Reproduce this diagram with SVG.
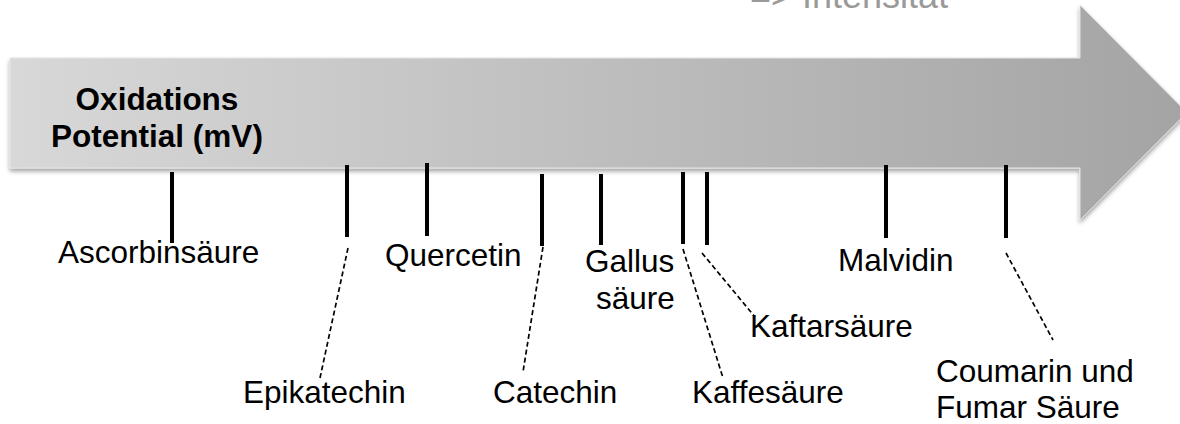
<svg xmlns="http://www.w3.org/2000/svg" width="1180" height="424" viewBox="0 0 1180 424">
  <style>
    .lbl { font-family: "Liberation Sans", Arial, sans-serif; font-size: 31.5px; fill: #000; }
    .bold { font-weight: bold; }
    .tick { stroke: #000; stroke-width: 4; fill: none; }
    .lead { stroke: #000; stroke-width: 1.7; stroke-dasharray: 5 3; fill: none; }
    .top { font-family: "Liberation Sans", Arial, sans-serif; font-size: 36px; fill: #9a9a9a; }
  </style>
  <defs>
    <linearGradient id="arrowGrad" x1="0" y1="0" x2="1" y2="0">
      <stop offset="0" stop-color="#d8d8d8"/>
      <stop offset="1" stop-color="#a4a4a4"/>
    </linearGradient>
    <filter id="shadow" x="-5%" y="-10%" width="110%" height="125%">
      <feDropShadow dx="0" dy="3" stdDeviation="2" flood-color="#000" flood-opacity="0.35"/>
    </filter>
  </defs>

  <rect width="1180" height="424" fill="#fff"/>

  <g id="title-intensitaet">
    <text class="top" x="750" y="8">=&gt; Intensität</text>
  </g>

  <g id="arrow">
    <path d="M10,58 L1080,58 L1080,5 L1187,112.5 L1080,220 L1080,168 L10,168 Z" fill="url(#arrowGrad)" stroke="#e4e4e4" stroke-width="1" filter="url(#shadow)"/>
    <text class="lbl bold" x="157" y="110" text-anchor="middle">Oxidations</text>
    <text class="lbl bold" x="157" y="147" text-anchor="middle">Potential (mV)</text>
  </g>

  <g id="connectors">
    <line class="lead" x1="348" y1="248" x2="320" y2="378"/>
    <line class="lead" x1="543" y1="247" x2="523" y2="372"/>
    <line class="lead" x1="683" y1="249" x2="723" y2="378"/>
    <line class="lead" x1="702" y1="253" x2="755" y2="317"/>
    <line class="lead" x1="1006" y1="253" x2="1053" y2="340"/>
  </g>

  <g id="ascorbinsaeure">
    <line class="tick" x1="172" y1="172" x2="172" y2="243"/>
    <text class="lbl" x="58" y="263">Ascorbinsäure</text>
  </g>
  <g id="epikatechin">
    <line class="tick" x1="347" y1="165" x2="347" y2="237"/>
    <text class="lbl" x="243" y="403">Epikatechin</text>
  </g>
  <g id="quercetin">
    <line class="tick" x1="427" y1="163" x2="427" y2="236"/>
    <text class="lbl" x="385" y="266">Quercetin</text>
  </g>
  <g id="catechin">
    <line class="tick" x1="542" y1="174" x2="542" y2="246"/>
    <text class="lbl" x="493" y="403">Catechin</text>
  </g>
  <g id="gallussaeure">
    <line class="tick" x1="601" y1="174" x2="601" y2="245"/>
    <text class="lbl" x="585" y="272">Gallus</text>
    <text class="lbl" x="596" y="309">säure</text>
  </g>
  <g id="kaffesaeure">
    <line class="tick" x1="683" y1="172" x2="683" y2="244"/>
    <text class="lbl" x="692" y="403">Kaffesäure</text>
  </g>
  <g id="kaftarsaeure">
    <line class="tick" x1="707" y1="172" x2="707" y2="245"/>
    <text class="lbl" x="750" y="337">Kaftarsäure</text>
  </g>
  <g id="malvidin">
    <line class="tick" x1="886" y1="165" x2="886" y2="238"/>
    <text class="lbl" x="838" y="271">Malvidin</text>
  </g>
  <g id="coumarin-fumarsaeure">
    <line class="tick" x1="1006" y1="165" x2="1006" y2="238"/>
    <text class="lbl" x="936" y="382">Coumarin und</text>
    <text class="lbl" x="936" y="418">Fumar Säure</text>
  </g>
</svg>
